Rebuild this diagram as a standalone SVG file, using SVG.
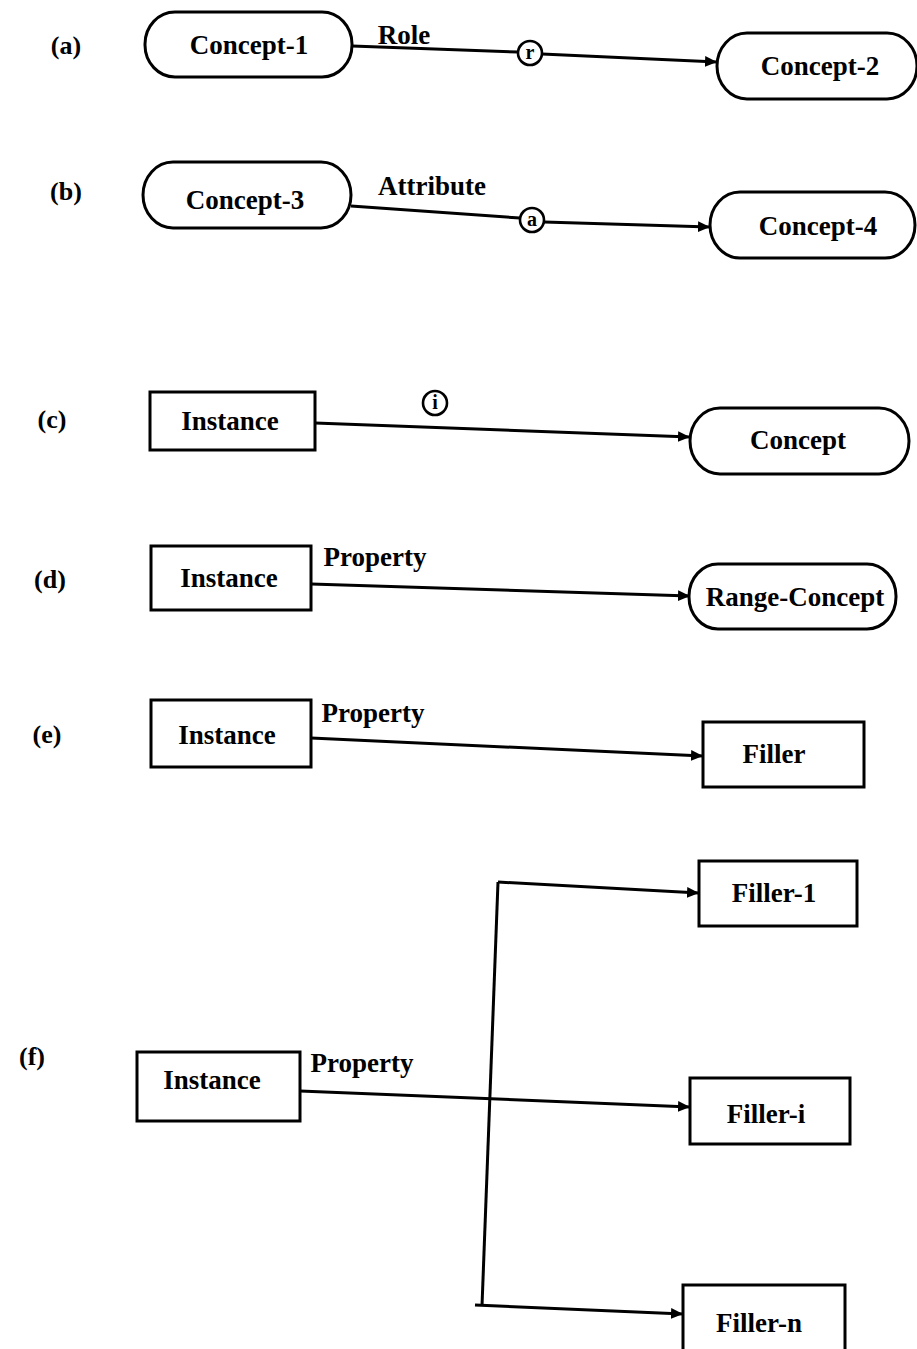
<svg xmlns="http://www.w3.org/2000/svg" width="917" height="1349" viewBox="0 0 917 1349">
<defs>
<marker id="arr" viewBox="0 0 10 10" refX="10" refY="5" markerWidth="4" markerHeight="4" orient="auto" markerUnits="strokeWidth">
<path d="M0,0.5 L10,5 L0,9.5 Z" fill="#000"/>
</marker>
<style>
.box{fill:#fff;stroke:#000;stroke-width:3}
.edge{fill:none;stroke:#000;stroke-width:3}
.t{font-family:"Liberation Serif",serif;font-weight:bold;font-size:27px;fill:#000;text-anchor:middle;dominant-baseline:central}
.lab{font-family:"Liberation Serif",serif;font-weight:bold;font-size:26px;fill:#000;text-anchor:middle;dominant-baseline:central}
.c{font-size:20px}
.circ{fill:#fff;stroke:#000;stroke-width:2.6}
</style>
</defs>
<rect width="917" height="1349" fill="#fff"/>

<g id="labels">
<text class="lab" x="66" y="45">(a)</text>
<text class="lab" x="66" y="191">(b)</text>
<text class="lab" x="52" y="419">(c)</text>
<text class="lab" x="50" y="579">(d)</text>
<text class="lab" x="47" y="734">(e)</text>
<text class="lab" x="32" y="1056">(f)</text>
</g>

<g id="connectors">
<path class="edge" d="M352,46 L518,52"/>
<path class="edge" d="M542,54 L717,62" marker-end="url(#arr)"/>
<text class="t" x="404" y="35">Role</text>
<path class="edge" d="M351,206 L520,218"/>
<path class="edge" d="M544,222 L710,227" marker-end="url(#arr)"/>
<text class="t" x="432" y="186">Attribute</text>
<path class="edge" d="M315,423 L690,437" marker-end="url(#arr)"/>
<path class="edge" d="M311,584 L690,596" marker-end="url(#arr)"/>
<text class="t" x="375" y="557">Property</text>
<path class="edge" d="M311,738 L703,756" marker-end="url(#arr)"/>
<text class="t" x="373" y="713">Property</text>
<path class="edge" d="M300,1091 L690,1107" marker-end="url(#arr)"/>
<text class="t" x="362" y="1063">Property</text>
<path class="edge" d="M498,882 L482,1306"/>
<path class="edge" d="M498,882 L699,893" marker-end="url(#arr)"/>
<path class="edge" d="M475,1305 L683,1314" marker-end="url(#arr)"/>
</g>

<g id="circle-r"><circle class="circ" cx="530" cy="53" r="12"/><text class="t c" x="530" y="52">r</text></g>
<g id="circle-a"><circle class="circ" cx="532" cy="220" r="12"/><text class="t c" x="532" y="219">a</text></g>
<g id="circle-i"><circle class="circ" cx="435" cy="403" r="12"/><text class="t c" x="435" y="402">i</text></g>

<g id="concept-1"><rect class="box" x="145" y="12" width="207" height="65" rx="30" ry="32"/><text class="t" x="249" y="45">Concept-1</text></g>
<g id="concept-2"><rect class="box" x="717" y="33" width="200" height="66" rx="30" ry="33"/><text class="t" x="820" y="66">Concept-2</text></g>
<g id="concept-3"><rect class="box" x="143" y="162" width="208" height="66" rx="30" ry="33"/><text class="t" x="245" y="200">Concept-3</text></g>
<g id="concept-4"><rect class="box" x="710" y="192" width="205" height="66" rx="30" ry="33"/><text class="t" x="818" y="226">Concept-4</text></g>

<g id="instance-c"><rect class="box" x="150" y="392" width="165" height="58"/><text class="t" x="230" y="421">Instance</text></g>
<g id="concept"><rect class="box" x="690" y="408" width="219" height="66" rx="30" ry="33"/><text class="t" x="798" y="440">Concept</text></g>

<g id="instance-d"><rect class="box" x="151" y="546" width="160" height="64"/><text class="t" x="229" y="578">Instance</text></g>
<g id="range-concept"><rect class="box" x="689" y="564" width="207" height="65" rx="29" ry="32"/><text class="t" x="795" y="597">Range-Concept</text></g>

<g id="instance-e"><rect class="box" x="151" y="700" width="160" height="67"/><text class="t" x="227" y="735">Instance</text></g>
<g id="filler"><rect class="box" x="703" y="722" width="161" height="65"/><text class="t" x="774" y="754">Filler</text></g>

<g id="instance-f"><rect class="box" x="137" y="1052" width="163" height="69"/><text class="t" x="212" y="1080">Instance</text></g>
<g id="filler-1"><rect class="box" x="699" y="861" width="158" height="65"/><text class="t" x="774" y="893">Filler-1</text></g>
<g id="filler-i"><rect class="box" x="690" y="1078" width="160" height="66"/><text class="t" x="766" y="1114">Filler-i</text></g>
<g id="filler-n"><rect class="box" x="683" y="1285" width="162" height="80"/><text class="t" x="759" y="1323">Filler-n</text></g>
</svg>
